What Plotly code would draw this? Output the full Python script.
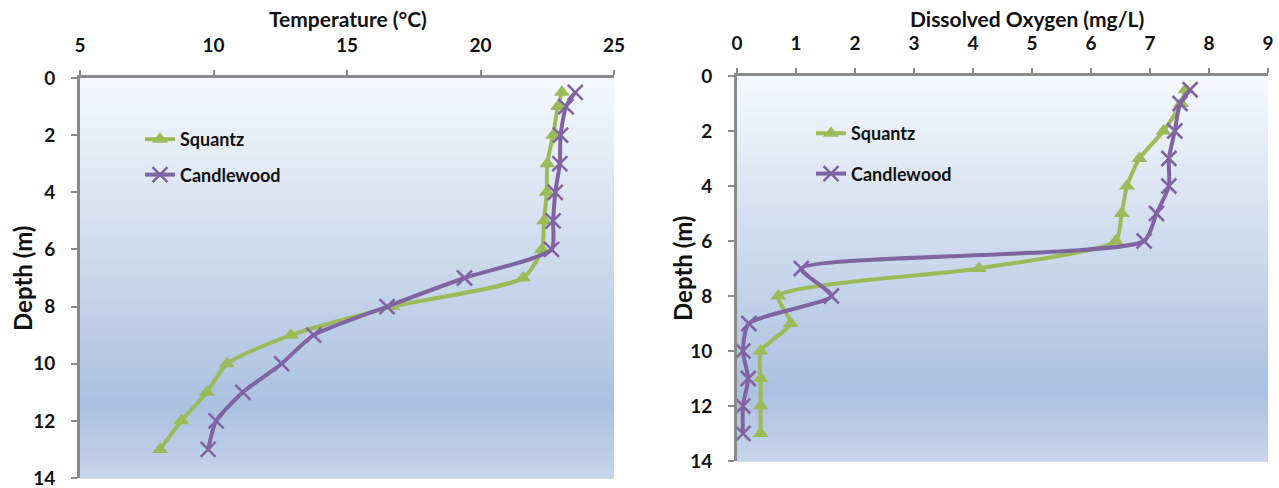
import plotly.graph_objects as go

# ---------------- data ----------------
depth = [0.5, 1, 2, 3, 4, 5, 6, 7, 8, 9, 10, 11, 12, 13]

temp_squantz = [23.05, 22.9, 22.72, 22.5, 22.48, 22.38, 22.3, 21.6, 16.7, 12.9, 10.5, 9.75, 8.8, 8.0]
temp_candlewood = [23.55, 23.2, 23.0, 22.97, 22.8, 22.72, 22.66, 19.4, 16.5, 13.75, 12.55, 11.1, 10.1, 9.8]

do_squantz = [7.6, 7.53, 7.23, 6.82, 6.61, 6.52, 6.42, 4.1, 0.7, 0.91, 0.4, 0.4, 0.4, 0.4]
do_candlewood = [7.68, 7.51, 7.42, 7.32, 7.32, 7.11, 6.9, 1.09, 1.6, 0.2, 0.1, 0.19, 0.1, 0.1]

temp_ticks = [5, 10, 15, 20, 25]
do_ticks = [0, 1, 2, 3, 4, 5, 6, 7, 8, 9]
depth_ticks = [0, 2, 4, 6, 8, 10, 12, 14]

# ---------------- style ----------------
W, H = 1279, 488
GREEN = "#9bbb59"
PURPLE = "#8064a2"
AXIS = "#8a8a8a"
FONT = "Lato"

def px_x(p):
    return p / W

def px_y(p):
    return 1 - p / H

fig = go.Figure()

def add_series(x, name, color, symbol, xa, ya, legend):
    if symbol == "tri":
        marker = dict(symbol="triangle-up", size=14, color=color)
    else:
        marker = dict(symbol="x-thin-open", size=15, color=color,
                      line=dict(color=color, width=2.5))
    fig.add_trace(go.Scatter(
        x=x, y=depth, name=name, mode="lines+markers",
        line=dict(color=color, width=4, shape="spline", smoothing=0.6),
        marker=marker, xaxis=xa, yaxis=ya, legend=legend,
        legendgroup=name + legend,
    ))

add_series(temp_squantz, "Squantz", GREEN, "tri", "x", "y", "legend")
add_series(temp_candlewood, "Candlewood", PURPLE, "x", "x", "y", "legend")
add_series(do_squantz, "Squantz", GREEN, "tri", "x2", "y2", "legend2")
add_series(do_candlewood, "Candlewood", PURPLE, "x", "x2", "y2", "legend2")

# gradient background bands
stops = [(0.0, (246, 249, 253)), (0.45, (205, 218, 237)),
         (0.82, (170, 193, 224)), (1.0, (198, 213, 234))]

def grad(t):
    for (t0, c0), (t1, c1) in zip(stops[:-1], stops[1:]):
        if t0 <= t <= t1:
            f = (t - t0) / (t1 - t0)
            return "rgb(%d,%d,%d)" % tuple(round(a + (b - a) * f) for a, b in zip(c0, c1))
    return "rgb(%d,%d,%d)" % stops[-1][1]

N = 80
shapes = []
for xr, yr in (("x domain", "y domain"), ("x2 domain", "y2 domain")):
    for i in range(N):
        t = (i + 0.5) / N
        shapes.append(dict(type="rect", xref=xr, yref=yr, x0=0, x1=1,
                           y0=1 - i / N, y1=1 - (i + 1) / N - 0.002,
                           fillcolor=grad(t), line=dict(width=0), layer="below"))

tickfont = dict(family=FONT, size=19, color="#111111", weight="bold")

def xaxis(dom, rng, ticks):
    return dict(domain=dom, range=rng, tickvals=ticks, side="top",
                showline=True, linecolor=AXIS, linewidth=3, mirror=False,
                ticks="outside", ticklen=5, tickwidth=2, tickcolor=AXIS,
                showgrid=False, zeroline=False, tickfont=tickfont,
                ticklabelstandoff=10, fixedrange=True, automargin=False,
                ticklabeloverflow="allow")

def yaxis(dom, anchor):
    return dict(domain=dom, range=[14, 0], tickvals=depth_ticks, anchor=anchor,
                showline=True, linecolor=AXIS, linewidth=3,
                ticks="outside", ticklen=6, tickwidth=2, tickcolor=AXIS,
                showgrid=False, zeroline=False, tickfont=tickfont,
                ticklabelstandoff=12, fixedrange=True, automargin=False,
                ticklabeloverflow="allow")

legfont = dict(family=FONT, size=18, color="#111111", weight="bold")

def legend(x, y, gap):
    return dict(x=x, y=y, xanchor="left", yanchor="top", bgcolor="rgba(0,0,0,0)",
                font=legfont, itemwidth=30, tracegroupgap=gap,
                borderwidth=0)

title_font = dict(family=FONT, size=21, color="#111111", weight="bold")
ytitle_font = dict(family=FONT, size=24, color="#111111", weight="bold")

fig.update_layout(
    width=W, height=H,
    margin=dict(l=0, r=0, t=0, b=0, autoexpand=False),
    paper_bgcolor="white", plot_bgcolor="rgba(0,0,0,0)",
    showlegend=True,
    xaxis=xaxis([px_x(80), px_x(614)], [5, 25], temp_ticks) | dict(anchor="y"),
    yaxis=yaxis([px_y(478), px_y(78)], "x"),
    xaxis2=xaxis([px_x(737), px_x(1268)], [0, 9], do_ticks) | dict(anchor="y2"),
    yaxis2=yaxis([px_y(461), px_y(76)], "x2"),
    legend=legend(px_x(140), px_y(121), 9),
    legend2=legend(px_x(811), px_y(115), 14),
    shapes=shapes,
    annotations=[
        dict(text="Temperature (°C)", x=px_x(348), y=px_y(19), xref="paper", yref="paper",
             showarrow=False, font=title_font, xanchor="center", yanchor="middle"),
        dict(text="Dissolved Oxygen (mg/L)", x=px_x(1027), y=px_y(19), xref="paper", yref="paper",
             showarrow=False, font=title_font, xanchor="center", yanchor="middle"),
        dict(text="Depth (m)", x=px_x(22), y=px_y(279), xref="paper", yref="paper",
             showarrow=False, font=ytitle_font, textangle=-90, xanchor="center", yanchor="middle"),
        dict(text="Depth (m)", x=px_x(682), y=px_y(269), xref="paper", yref="paper",
             showarrow=False, font=ytitle_font, textangle=-90, xanchor="center", yanchor="middle"),
    ],
)

fig.write_html(
    "out.html",
    config={"displayModeBar": False},
    post_script="document.body.style.margin='0';document.body.style.overflow='hidden';",
)
